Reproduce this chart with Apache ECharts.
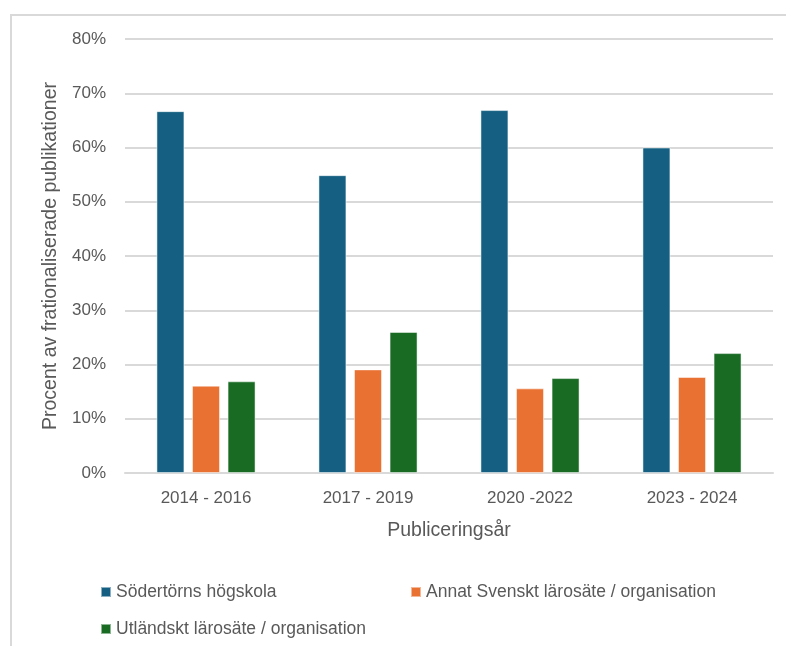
<!DOCTYPE html>
<html>
<head>
<meta charset="utf-8">
<script src="https://cdn.jsdelivr.net/npm/echarts@6/dist/echarts.min.js"></script>
<style>html,body{margin:0;padding:0;background:#fff}#c{width:786px;height:646px}</style>
</head>
<body>
<div id="c"></div>
<script>
const categories = ['2014 - 2016', '2017 - 2019', '2020 -2022', '2023 - 2024'];
const sodertorn = [66.7, 54.9, 66.9, 60.0];
const annatSvenskt = [16.1, 19.1, 15.6, 17.7];
const utlandskt = [16.9, 26.0, 17.5, 22.1];
const seriesNames = ['Södertörns högskola', 'Annat Svenskt lärosäte / organisation', 'Utländskt lärosäte / organisation'];
const yTicks = [0, 10, 20, 30, 40, 50, 60, 70, 80];

const FONT = '"Liberation Sans", Arial, sans-serif';
const TXT = '#595959';
const colors = ['#156082', '#E97132', '#196B24'];

const chart = echarts.init(document.getElementById('c'), null, {renderer: 'canvas'});
function legendAt(name, left, top) {
  return {
    data: [name], left: left, top: top, itemWidth: 10, itemHeight: 10, itemGap: 5,
    icon: 'rect', textStyle: {color: TXT, fontSize: 17.5, fontFamily: FONT}, padding: 0
  };
}
chart.setOption({
  animation: false,
  color: colors,
  graphic: [{
    type: 'rect', shape: {x: 11, y: 15, width: 800, height: 700},
    style: {fill: 'none', stroke: '#d9d9d9', lineWidth: 2}, silent: true, z: -1
  }],
  grid: {left: 125, right: 13, top: 39, bottom: 173, containLabel: false},
  legend: [
    legendAt(seriesNames[0], 100, 583),
    legendAt(seriesNames[1], 410, 583),
    legendAt(seriesNames[2], 100, 620)
  ],
  xAxis: {
    type: 'category', data: categories,
    axisLine: {show: true, lineStyle: {color: '#d9d9d9', width: 2}},
    axisTick: {show: false},
    axisLabel: {color: TXT, fontSize: 17, fontFamily: FONT, margin: 17},
    name: 'Publiceringsår', nameLocation: 'middle', nameGap: 48,
    nameTextStyle: {color: TXT, fontSize: 19.5, fontFamily: FONT}
  },
  yAxis: {
    type: 'value', min: yTicks[0], max: yTicks[yTicks.length - 1], interval: 10,
    axisLine: {show: false}, axisTick: {show: false},
    splitLine: {lineStyle: {color: '#d9d9d9', width: 2}},
    axisLabel: {color: TXT, fontSize: 17, fontFamily: FONT, margin: 19, formatter: v => v + '%'},
    name: 'Procent av frationaliserade publikationer', nameLocation: 'middle', nameGap: 63,
    nameTextStyle: {color: TXT, fontSize: 19.5, fontFamily: FONT}
  },
  series: [
    {name: seriesNames[0], type: 'bar', data: sodertorn, barWidth: 28, barGap: '27%',
     itemStyle: {borderColor: 'rgba(255,255,255,0.5)', borderWidth: 1}},
    {name: seriesNames[1], type: 'bar', data: annatSvenskt, barWidth: 28, barGap: '27%',
     itemStyle: {borderColor: 'rgba(255,255,255,0.5)', borderWidth: 1}},
    {name: seriesNames[2], type: 'bar', data: utlandskt, barWidth: 28, barGap: '27%',
     itemStyle: {borderColor: 'rgba(255,255,255,0.5)', borderWidth: 1}}
  ]
});
</script>
</body>
</html>
